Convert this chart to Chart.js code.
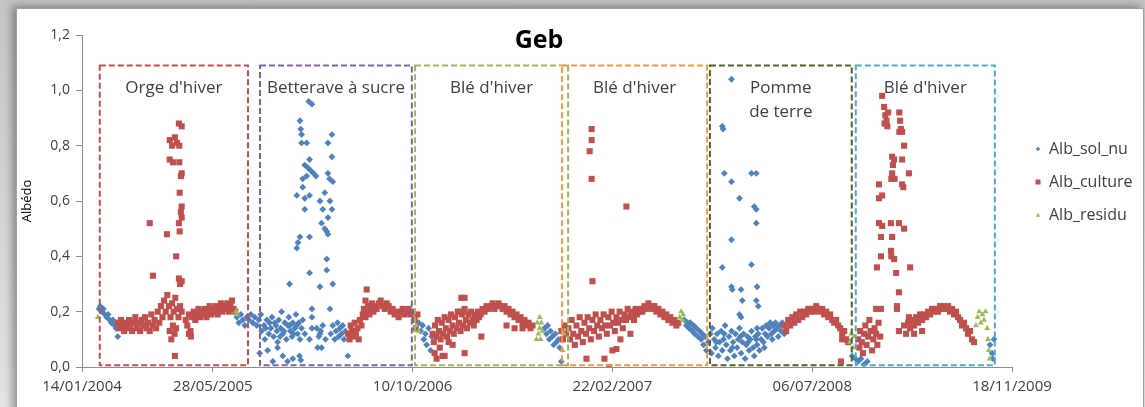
<!DOCTYPE html>
<html>
<head>
<meta charset="utf-8">
<script src="https://cdn.jsdelivr.net/npm/chart.js@4/dist/chart.umd.min.js"></script>
<style>
html, body { margin: 0; padding: 0; }
body { width: 1145px; height: 407px; overflow: hidden; position: relative; background: linear-gradient(#c4c4c4, #e4e4e4); }
#frame { position: absolute; left: 16px; top: 8px; width: 1126px; height: 410px; background: #fff; border: 1px solid #a0a0a0; box-shadow: -4px -2px 8px rgba(0,0,0,0.35); }
#chart { position: absolute; left: 0; top: 0; }
</style>
</head>
<body>
<div id="frame"></div>
<canvas id="chart" width="1145" height="407"></canvas>
<script>
// x values are days on the chart's date axis, y values are albedo
const xTickValues = [172.5, 500, 1000, 1500, 2000, 2500]
const xTickLabels = ['14/01/2004', '28/05/2005', '10/10/2006', '22/02/2007', '06/07/2008', '18/11/2009']

const seriesNames = ['Alb_sol_nu', 'Alb_culture', 'Alb_residu']

const zoneNames = [["Orge d'hiver"], ['Betterave à sucre'], ["Blé d'hiver"], ["Blé d'hiver"], ['Pomme', 'de terre'], ["Blé d'hiver"]]
const zoneStart = [217, 618, 1006, 1374, 1744, 2109]
const zoneEnd = [588, 998, 1389, 1737, 2099, 2457]
const zoneColors = ['#c0504d', '#8064a2', '#9bbb59', '#f79646', '#4f6228', '#4bacc6']

const solNu = [
    [215,0.21],[218,0.22],[222,0.2],[226,0.21],[230,0.19],[234,0.18],[238,0.19],[242,0.17],[246,0.16],[250,0.17],[254,0.15],[258,0.14],[262,0.15],[262,0.11],
    [560,0.18],[565,0.16],[570,0.19],[575,0.17],[580,0.15],[585,0.18],[590,0.17],[595,0.19],[600,0.16],[605,0.18],[610,0.15],[615,0.17],[620,0.19],[622,0.13],
    [628,0.15],[630,0.1],[635,0.17],[640,0.12],[645,0.14],[648,0.18],[652,0.11],[655,0.16],[660,0.13],[662,0.09],[665,0.17],[670,0.14],[672,0.2],[675,0.12],
    [680,0.16],[684,0.1],[688,0.15],[690,0.18],[694,0.13],[698,0.11],[700,0.16],[705,0.14],[708,0.19],[712,0.12],[715,0.16],[718,0.1],[722,0.14],[725,0.17],[730,0.12],
    [632,0.14],[642,0.16],[658,0.15],[668,0.11],[678,0.13],[692,0.15],[702,0.12],[710,0.15],
    [617,0.05],[637,0.06],[662,0.07],[675,0.04],[687,0.02],[717,0.04],[720,0.025],[650,0.02],[700,0.03],
    [740,0.96],[748,0.95],[718,0.89],[720,0.86],[722,0.84],[722,0.81],[735,0.81],[798,0.84],[788,0.81],[798,0.76],
    [730,0.73],[738,0.72],[745,0.71],[752,0.7],[758,0.69],[742,0.75],[788,0.7],[735,0.69],[725,0.68],[792,0.68],[800,0.67],
    [725,0.65],[780,0.63],[710,0.62],[730,0.61],[742,0.62],[793,0.6],[768,0.6],[730,0.57],[775,0.57],[798,0.57],[788,0.54],
    [772,0.52],[780,0.5],[785,0.49],[788,0.48],[718,0.47],[713,0.45],[710,0.43],[742,0.47],[785,0.39],[785,0.35],[742,0.34],
    [692,0.3],[768,0.29],[800,0.3],[793,0.21],[748,0.21],[748,0.18],[748,0.14],[768,0.12],[770,0.13],[742,0.1],[762,0.07],[772,0.07],
    [760,0.14],[765,0.11],[775,0.15],[782,0.1],
    [795,0.12],[800,0.15],[805,0.1],[808,0.13],[812,0.16],[815,0.11],[818,0.14],[822,0.12],[825,0.15],[828,0.1],[832,0.13],[838,0.04],
    [1015,0.16],[1020,0.13],[1025,0.15],[1028,0.1],[1032,0.12],[1035,0.08],[1040,0.14],[1045,0.06],[1048,0.11],
    [1330,0.14],[1335,0.12],[1338,0.15],[1342,0.1],[1345,0.13],[1350,0.11],[1353,0.08],[1357,0.12],[1360,0.09],[1365,0.1],[1368,0.07],[1372,0.02],
    [1680,0.17],[1685,0.15],[1688,0.16],[1692,0.14],[1695,0.16],[1700,0.13],[1703,0.15],[1706,0.12],[1710,0.14],[1714,0.11],[1718,0.13],[1722,0.1],
    [1725,0.12],[1728,0.08],[1732,0.11],[1735,0.06],[1740,0.09],[1745,0.12],[1748,0.05],
    [1750,0.14],[1755,0.1],[1758,0.07],[1762,0.12],[1765,0.04],[1768,0.09],[1772,0.13],[1775,0.06],[1778,0.1],[1782,0.15],[1785,0.08],[1788,0.03],
    [1792,0.11],[1795,0.06],[1798,0.13],[1802,0.09],[1805,0.04],[1808,0.12],[1812,0.07],[1815,0.1],[1818,0.14],[1822,0.05],[1825,0.09],[1828,0.12],
    [1832,0.03],[1835,0.08],[1838,0.11],[1842,0.06],[1845,0.1],[1848,0.13],[1852,0.07],[1855,0.04],[1858,0.11],[1862,0.08],[1865,0.12],[1868,0.06],
    [1872,0.1],[1875,0.14],[1878,0.09],[1882,0.12],[1885,0.15],[1888,0.11],[1892,0.14],[1895,0.16],[1898,0.12],[1902,0.15],[1905,0.13],[1908,0.16],
    [1912,0.14],[1915,0.11],[1918,0.15],[1922,0.13],[1925,0.16],[1930,0.12],
    [1760,0.09],[1780,0.12],[1800,0.07],[1820,0.11],[1840,0.09],[1860,0.1],[1880,0.07],[1900,0.1],
    [1798,1.04],[1775,0.87],[1777,0.86],[1780,0.7],[1848,0.7],[1860,0.7],[1798,0.67],[1818,0.61],[1855,0.58],[1860,0.57],[1860,0.52],[1798,0.46],
    [1775,0.36],[1848,0.37],[1798,0.29],[1800,0.28],[1822,0.28],[1862,0.29],[1825,0.24],[1860,0.24],[1865,0.22],[1818,0.19],[1822,0.18],[1862,0.14],
    [2100,0.04],[2108,0.03],[2115,0.02],[2122,0.03],[2130,0.01],[2138,0.02],
    [2445,0.08],[2450,0.05],[2455,0.1],[2452,0.03]
]

const culture = [
    [262,0.16],[266,0.14],[270,0.17],[274,0.15],[278,0.13],[282,0.16],[286,0.14],[290,0.17],[294,0.15],[298,0.13],[302,0.16],[306,0.18],[310,0.14],
    [314,0.16],[318,0.13],[322,0.17],[326,0.15],[330,0.18],[334,0.14],[338,0.16],[342,0.13],[346,0.19],[350,0.15],[354,0.17],[358,0.14],[362,0.2],
    [366,0.16],[370,0.22],[374,0.18],[378,0.24],[382,0.2],[386,0.26],[390,0.22],[394,0.18],[398,0.23],[402,0.2],[406,0.25],[410,0.21],[414,0.18],[418,0.22],[422,0.2],
    [392,0.13],[396,0.1],[400,0.15],[404,0.12],[408,0.14],
    [415,0.88],[422,0.87],[392,0.82],[398,0.8],[405,0.83],[410,0.81],[416,0.8],[392,0.75],[400,0.74],[416,0.74],[422,0.7],[420,0.69],[417,0.63],
    [422,0.58],[420,0.56],[422,0.54],[342,0.52],[385,0.48],[415,0.52],[417,0.49],[408,0.4],[350,0.33],[415,0.32],[422,0.31],[418,0.3],[405,0.04],
    [432,0.17],[436,0.15],[440,0.19],[444,0.13],[448,0.18],[452,0.2],[456,0.17],[460,0.19],[464,0.21],[468,0.18],[472,0.2],[476,0.19],[480,0.21],
    [484,0.18],[488,0.2],[492,0.22],[496,0.19],[500,0.21],[504,0.2],[508,0.22],[512,0.19],[516,0.21],[520,0.23],[524,0.2],[528,0.22],[532,0.21],
    [536,0.23],[540,0.2],[544,0.22],[548,0.24],[552,0.21],[556,0.2],[440,0.12],[445,0.11],
    [838,0.12],[842,0.1],[845,0.15],[848,0.13],[852,0.11],[855,0.16],[858,0.12],[862,0.14],[865,0.1],[868,0.17],[872,0.15],[875,0.19],[878,0.21],
    [882,0.18],[885,0.2],[888,0.22],[892,0.19],[895,0.21],[898,0.23],[902,0.2],[905,0.22],[910,0.21],[915,0.23],[920,0.24],[925,0.22],[930,0.21],
    [935,0.23],[940,0.22],[945,0.2],[950,0.21],[955,0.19],[960,0.2],[965,0.18],[970,0.2],[975,0.21],[980,0.19],[985,0.2],[990,0.21],[995,0.19],[1000,0.2],
    [885,0.28],[882,0.24],
    [1005,0.17],[1008,0.14],[1012,0.19],
    [1050,0.12],[1053,0.09],[1056,0.15],[1060,0.11],[1063,0.17],[1066,0.13],[1070,0.1],[1073,0.16],[1076,0.12],[1080,0.18],[1083,0.14],[1086,0.11],
    [1090,0.17],[1093,0.13],[1096,0.19],[1100,0.15],[1103,0.12],[1106,0.18],[1110,0.14],[1113,0.2],[1116,0.16],[1120,0.13],[1123,0.19],[1126,0.15],
    [1130,0.21],[1133,0.17],[1136,0.14],[1140,0.19],[1143,0.16],[1146,0.2],[1150,0.17],[1153,0.15],[1156,0.19],[1160,0.17],[1163,0.2],[1166,0.18],
    [1122,0.25],[1130,0.25],[1118,0.2],[1128,0.2],
    [1170,0.19],[1175,0.21],[1180,0.2],[1185,0.22],[1190,0.21],[1195,0.22],[1200,0.23],[1205,0.21],[1210,0.22],[1215,0.23],[1220,0.22],[1225,0.21],
    [1230,0.22],[1235,0.2],[1240,0.21],[1245,0.19],[1250,0.2],[1255,0.18],[1260,0.19],[1265,0.17],[1270,0.18],[1275,0.16],[1280,0.17],[1285,0.15],
    [1290,0.16],[1295,0.14],[1300,0.15],
    [1075,0.04],[1055,0.05],[1060,0.03],[1130,0.05],[1172,0.11],[1100,0.08],[1235,0.15],[1255,0.14],[1275,0.14],[1080,0.04],[1068,0.07],[1090,0.09],
    [1372,0.13],[1376,0.1],[1380,0.15],[1384,0.12],
    [1390,0.14],[1394,0.1],[1398,0.17],[1402,0.12],[1406,0.08],[1410,0.15],[1414,0.11],[1418,0.18],[1422,0.13],[1426,0.09],[1430,0.16],[1434,0.12],
    [1438,0.18],[1442,0.14],[1446,0.1],[1450,0.17],[1454,0.13],[1458,0.19],[1462,0.15],[1466,0.11],[1470,0.17],[1474,0.14],[1478,0.19],[1482,0.15],
    [1486,0.12],[1490,0.18],[1494,0.15],[1498,0.2],[1502,0.16],[1506,0.13],[1510,0.18],[1514,0.16],[1518,0.2],[1522,0.17],[1526,0.14],[1530,0.19],
    [1534,0.17],[1538,0.21],[1542,0.18],[1546,0.2],[1550,0.19],[1554,0.17],[1558,0.21],[1562,0.19],
    [1566,0.2],[1570,0.21],[1575,0.2],[1580,0.22],[1585,0.21],[1590,0.23],[1595,0.22],[1600,0.21],[1605,0.22],[1610,0.2],[1615,0.21],[1620,0.19],
    [1625,0.2],[1630,0.18],[1635,0.19],[1640,0.17],[1645,0.18],[1650,0.16],[1655,0.17],[1660,0.15],[1665,0.16],
    [1448,0.86],[1448,0.82],[1443,0.78],[1448,0.68],[1535,0.58],[1450,0.31],[1500,0.06],[1510,0.065],[1480,0.03],[1435,0.03],[1492,0.0],[1520,0.1],[1545,0.12],
    [1930,0.15],[1935,0.13],[1940,0.17],[1945,0.15],[1950,0.18],[1955,0.16],[1960,0.19],[1965,0.17],[1970,0.2],[1975,0.18],[1980,0.2],[1985,0.19],
    [1990,0.21],[1995,0.2],[2000,0.21],[2005,0.2],[2010,0.22],[2015,0.21],[2020,0.2],[2025,0.21],[2030,0.19],[2035,0.2],[2040,0.18],[2045,0.19],
    [2050,0.17],[2055,0.16],[2060,0.17],[2065,0.15],[2070,0.14],[2075,0.12],[2080,0.13],[2085,0.1],[2090,0.09],[2075,0.1],[2072,0.02],
    [2115,0.1],[2118,0.07],[2120,0.13],[2124,0.09],[2127,0.05],[2130,0.12],[2133,0.15],[2136,0.08],[2140,0.11],[2143,0.17],[2146,0.13],[2150,0.06],
    [2153,0.1],[2156,0.14],[2160,0.12],[2163,0.08],[2166,0.16],[2170,0.11],
    [2175,0.98],[2180,0.94],[2183,0.91],[2186,0.89],[2190,0.92],[2181,0.88],[2188,0.87],[2218,0.92],[2220,0.89],[2222,0.86],[2218,0.85],[2225,0.85],
    [2230,0.8],[2200,0.76],[2205,0.75],[2202,0.73],[2200,0.7],[2198,0.68],[2206,0.68],[2225,0.75],[2242,0.7],[2225,0.66],[2228,0.65],[2167,0.66],
    [2175,0.62],[2167,0.61],[2167,0.52],[2175,0.51],[2197,0.52],[2217,0.52],[2230,0.5],[2172,0.47],[2200,0.47],[2197,0.42],[2198,0.4],[2205,0.39],
    [2172,0.4],[2162,0.36],[2210,0.34],[2245,0.36],[2217,0.27],[2212,0.22],[2212,0.21],[2160,0.21],[2172,0.21],[2242,0.18],[2217,0.13],
    [2230,0.15],[2235,0.12],[2240,0.16],[2245,0.14],[2250,0.17],[2255,0.15],[2260,0.18],[2265,0.16],[2270,0.19],[2275,0.17],[2280,0.19],[2285,0.18],
    [2290,0.2],[2295,0.19],[2300,0.21],[2305,0.2],[2310,0.21],[2315,0.2],[2320,0.22],[2325,0.21],[2330,0.22],[2335,0.21],[2340,0.22],[2345,0.2],
    [2350,0.21],[2355,0.19],[2360,0.2],[2365,0.18],[2370,0.17],[2375,0.15],[2380,0.16],[2385,0.14],[2390,0.12],[2395,0.13],[2400,0.1],[2405,0.09],
    [2255,0.12],[2275,0.13]
]

const residu = [
    [212,0.18],[558,0.2],[560,0.19],[1008,0.15],[1015,0.13],
    [1310,0.1],[1312,0.16],[1315,0.12],[1318,0.14],[1320,0.1],[1322,0.16],[1325,0.13],[1318,0.18],[1375,0.06],[1378,0.12],
    [1668,0.18],[1672,0.2],[1675,0.17],[1677,0.19],
    [2094,0.09],[2098,0.12],[2102,0.07],[2105,0.11],
    [2410,0.15],[2414,0.18],[2418,0.2],[2422,0.16],[2426,0.19],[2430,0.17],[2434,0.2],[2438,0.14],[2440,0.1],[2442,0.06],[2444,0.03]
]

const toPoints = (rows) => rows.map(([x, y]) => ({x: x, y: y}))

const seriesColors = ['#4f81bd', '#c0504d', '#9bbb59']
const seriesStyles = ['rectRot', 'rect', 'triangle']

const drawMarker = (ctx, style, x, y, r) => {
    ctx.beginPath()
    if (style === 'rectRot') {
        ctx.moveTo(x - r, y); ctx.lineTo(x, y - r); ctx.lineTo(x + r, y); ctx.lineTo(x, y + r)
    } else if (style === 'rect') {
        ctx.rect(x - r, y - r, 2 * r, 2 * r)
    } else {
        ctx.moveTo(x, y - r); ctx.lineTo(x + r, y + r * 0.8); ctx.lineTo(x - r, y + r * 0.8)
    }
    ctx.closePath()
    ctx.fill()
}

const decorations = {
    id: 'decorations',
    afterDatasetsDraw(chart) {
        const {ctx, chartArea, scales: {x, y}} = chart
        ctx.save()

        // crop zones
        const top = y.getPixelForValue(1.09)
        const bottom = y.getPixelForValue(0.006)
        ctx.lineWidth = 2
        ctx.setLineDash([6, 3])
        zoneNames.forEach((lines, i) => {
            const left = x.getPixelForValue(zoneStart[i])
            const right = x.getPixelForValue(zoneEnd[i])
            ctx.strokeStyle = zoneColors[i]
            ctx.strokeRect(left, top, right - left, bottom - top)
            ctx.fillStyle = '#404040'
            ctx.font = '17px "Open Sans"'
            ctx.textAlign = 'center'
            ctx.textBaseline = 'middle'
            lines.forEach((line, j) => {
                ctx.fillText(line, (left + right) / 2, y.getPixelForValue(1.0) - 2 + j * 24)
            })
        })
        ctx.setLineDash([])

        // title
        ctx.fillStyle = '#000'
        ctx.font = 'bold 25px "Open Sans"'
        ctx.textAlign = 'center'
        ctx.textBaseline = 'middle'
        ctx.fillText('Geb', (chartArea.left + chartArea.right) / 2 - 8, chartArea.top + 6)

        // legend
        ctx.font = '16px "Open Sans"'
        ctx.textAlign = 'left'
        seriesNames.forEach((name, i) => {
            const ly = 149 + i * 33
            ctx.fillStyle = seriesColors[i]
            drawMarker(ctx, seriesStyles[i], chartArea.right + 26, ly, i === 1 ? 2.5 : 2.2)
            ctx.fillStyle = '#404040'
            ctx.fillText(name, chartArea.right + 37, ly)
        })
        ctx.restore()
    }
}

const createDataset = (label, rows, i, radius, order) => {
    return {
        label: label,
        data: toPoints(rows),
        pointStyle: seriesStyles[i],
        pointRadius: radius,
        pointHoverRadius: radius,
        backgroundColor: seriesColors[i],
        borderColor: seriesColors[i],
        borderWidth: 0,
        showLine: false,
        order: order
    }
}

const context = document.getElementById('chart').getContext('2d')

new Chart(context, {
    type: 'scatter',
    data: {
        datasets: [
            createDataset(seriesNames[0], solNu, 0, 3.4, 2),
            createDataset(seriesNames[1], culture, 1, 4.3, 1),
            createDataset(seriesNames[2], residu, 2, 3.4, 0)
        ]
    },
    options: {
        responsive: false,
        animation: false,
        layout: {padding: {left: 0, right: 133, top: 35, bottom: 0}},
        plugins: {
            legend: {display: false},
            tooltip: {enabled: false}
        },
        scales: {
            x: {
                type: 'linear',
                min: xTickValues[0],
                max: xTickValues[xTickValues.length - 1],
                afterBuildTicks: (scale) => {
                    scale.ticks = xTickValues.map(v => ({value: v}))
                },
                afterFit: (scale) => { scale.height = 40 },
                ticks: {
                    autoSkip: false,
                    maxRotation: 0,
                    color: '#404040',
                    font: {family: 'Open Sans', size: 15},
                    padding: 6,
                    callback: (value, index) => xTickLabels[index]
                },
                grid: {drawOnChartArea: false, drawTicks: true, tickLength: 5, color: '#8c8c8c'},
                border: {display: true, color: '#8c8c8c', width: 1}
            },
            y: {
                min: 0,
                max: 1.2,
                afterFit: (scale) => { scale.width = 82 },
                ticks: {
                    stepSize: 0.2,
                    color: '#404040',
                    font: {family: 'Open Sans', size: 14},
                    padding: 6,
                    callback: (value) => value.toFixed(1).replace('.', ',')
                },
                title: {
                    display: true,
                    text: 'Albédo',
                    color: '#000',
                    font: {family: 'Open Sans', size: 13},
                    padding: {top: 19, bottom: 0}
                },
                grid: {drawOnChartArea: false, drawTicks: true, tickLength: 6, color: '#8c8c8c'},
                border: {display: true, color: '#8c8c8c', width: 1}
            }
        }
    },
    plugins: [decorations]
})
</script>
</body>
</html>
